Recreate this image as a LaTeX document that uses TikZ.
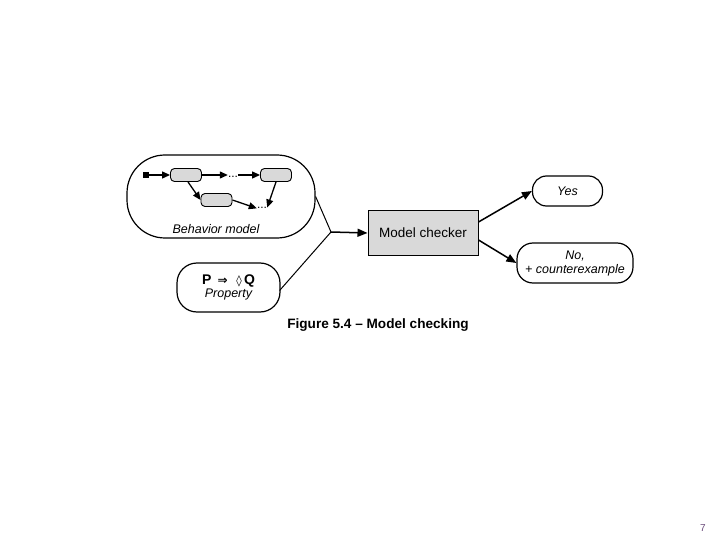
\documentclass[tikz,border=0pt]{standalone}
\usepackage{fontspec}
\setmainfont{Liberation Sans}
\newfontfamily\symfont{DejaVu Sans}
\usetikzlibrary{arrows.meta}
\definecolor{boxgray}{HTML}{D9D9D9}
\definecolor{pagenum}{HTML}{6A4A7A}
\tikzset{
  x=1pt, y=-1pt,
  oval/.style={draw, line width=1.2pt, rounded corners=#1},
  oval/.default=14pt,
  statebox/.style={draw, line width=0.9pt, fill=boxgray, rounded corners=4pt, minimum width=31pt, minimum height=13pt, inner sep=0pt},
  inarrow/.style={line width=1.3pt, -{Triangle[length=8pt,width=7pt]}},
  bigarrow/.style={line width=1.5pt, -{Triangle[length=10pt,width=8pt]}},
  feed/.style={line width=1pt},
  lbl/.style={font=\fontsize{12.5}{14}\selectfont\itshape, inner sep=0pt},
  dots/.style={inner sep=0pt, anchor=base, font=\fontsize{12}{12}\selectfont},
}
\begin{document}
\begin{tikzpicture}
\useasboundingbox[fill=white] (0,0) rectangle (720,540);
% behavior model
\node[oval=38pt, minimum width=188pt, minimum height=83pt] (bm) at (221,196.5) {};
\node[lbl] (bmtext) at (216,229) {Behavior model};
\node[draw, fill=black, minimum size=5pt, inner sep=0pt] (init) at (146,175) {};
\node[statebox] (s1) at (186,175) {};
\node[statebox] (s2) at (216.5,200) {};
\node[statebox] (s3) at (276,175) {};
\node[dots] (d1) at (233,177.5) {...};
\node[dots] (d2) at (262,209) {...};
\draw[inarrow] (init) -- (s1);
\draw[inarrow] (s1.east) -- (s1.east -| d1.west);
\draw[inarrow] (d1.east |- s3.west) -- (s3.west);
\draw[inarrow] (s1.south) ++(2,0) coordinate (s1b) (s1b) -- (s2.west);
\draw[inarrow] (s2.east) -- (d2.west);
\draw[inarrow] (s3.south) -- (d2.north east);
% property
\node[oval=20pt, minimum width=103pt, minimum height=49pt, align=center, inner sep=0pt] (prop) at (228.5,287.5)
  {{\fontsize{14}{16}\selectfont\bfseries P\, {\symfont\fontsize{12}{13}\selectfont ⇒}\,\, {\symfont\fontsize{11}{13}\selectfont ◊}\,Q}\\[1pt]
   {\fontsize{12.5}{14}\selectfont\itshape Property}};
% junction
\coordinate (j) at (331,232);
\draw[feed] (bm.east) -- (j);
\draw[feed] (prop.east) ++(-1,3) coordinate (pe) (pe) -- (j);
% model checker
\node[draw, line width=1pt, fill=boxgray, minimum width=110pt, minimum height=44pt, font=\fontsize{13.5}{15}\selectfont] (mc) at (423,233) {Model checker};
\draw[bigarrow] (j) -- (mc.west);
% outcomes
\node[oval=14pt, minimum width=70pt, minimum height=30pt, lbl] (yes) at (567.5,191) {Yes};
\node[oval=16pt, minimum width=116pt, minimum height=40pt, lbl, align=center] (no) at (575,263) {No,\\+ counterexample};
\draw[bigarrow] (mc.east) ++(0,-11) coordinate (mct) (mct) -- (yes.west);
\draw[bigarrow] (mc.east) ++(0,7) coordinate (mcb) (mcb) -- (no.west);
% caption
\node[font=\fontsize{13.6}{16}\selectfont\bfseries, inner sep=0pt] (cap) at (378,325) {Figure 5.4 – Model checking};
\node[font=\fontsize{10}{12}\selectfont, text=pagenum, inner sep=0pt] (pg) at (703,528) {7};
\end{tikzpicture}
\end{document}
